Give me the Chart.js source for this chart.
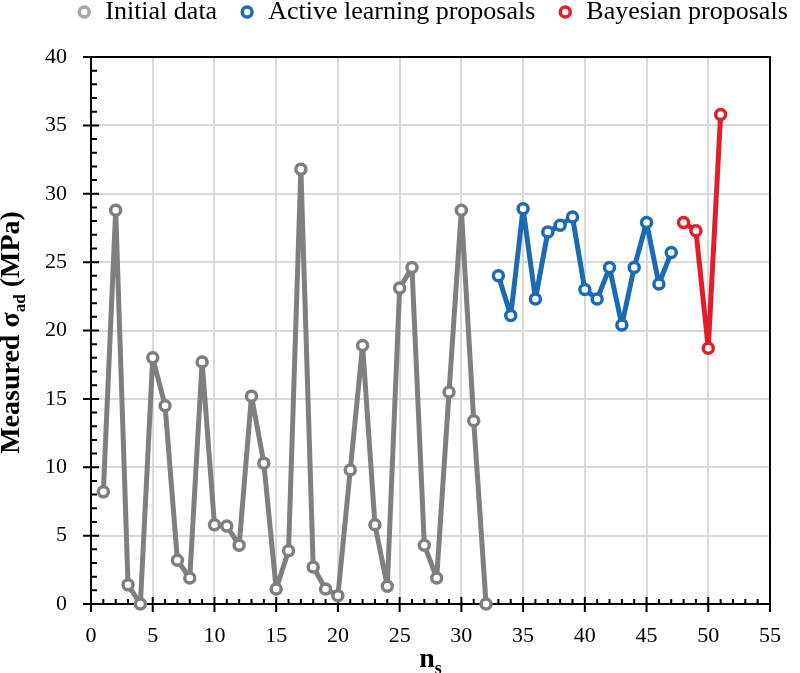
<!DOCTYPE html>
<html>
<head>
<meta charset="utf-8">
<script src="https://cdn.jsdelivr.net/npm/chart.js@4"></script>
<style>
  html, body { margin: 0; padding: 0; background: #fff; }
  #wrap { width: 800px; height: 673px; }
</style>
</head>
<body>
<div id="wrap"><canvas id="chart"></canvas></div>
<script>
// data
const initialN = [1, 2, 3, 4, 5, 6, 7, 8, 9, 10, 11, 12, 13, 14, 15, 16, 17, 18, 19, 20, 21, 22, 23, 24, 25, 26, 27, 28, 29, 30, 31, 32];
const initialSigma = [8.2, 28.8, 1.4, 0, 18.0, 14.5, 3.2, 1.9, 17.7, 5.8, 5.7, 4.3, 15.2, 10.3, 1.1, 3.9, 31.8, 2.7, 1.1, 0.6, 9.8, 18.9, 5.8, 1.3, 23.1, 24.6, 4.3, 1.9, 15.5, 28.8, 13.4, 0];
const activeN = [33, 34, 35, 36, 37, 38, 39, 40, 41, 42, 43, 44, 45, 46, 47];
const activeSigma = [24.0, 21.1, 28.9, 22.3, 27.2, 27.7, 28.3, 23.0, 22.3, 24.6, 20.4, 24.6, 27.9, 23.4, 25.7];
const bayesN = [48, 49, 50, 51];
const bayesSigma = [27.9, 27.3, 18.7, 35.8];

const xMin = 0, xMax = 55, xStep = 5;
const yMin = 0, yMax = 40, yStep = 5;

const FONT = "'Liberation Serif', 'Times New Roman', serif";
const GRAY = '#7f7f7f';
const BLUE = '#1c6ab4';
const RED = '#e31d2b';

function toPoints(xs, ys) {
    return xs.map((x, i) => ({ x: x, y: ys[i] }));
}

function lineSet(label, xs, ys, color) {
    return {
        label: label,
        data: toPoints(xs, ys),
        borderColor: color,
        backgroundColor: color,
        borderWidth: 5,
        borderJoinStyle: 'round',
        borderCapStyle: 'round',
        pointRadius: 5,
        pointBorderWidth: 3.5,
        pointBorderColor: color,
        pointBackgroundColor: '#fff',
        clip: false,
        tension: 0
    };
}

// text with a subscript part, drawn on the canvas
function drawSubText(ctx, parts, x, y, rotate) {
    ctx.save();
    ctx.translate(x, y);
    if (rotate) ctx.rotate(-Math.PI / 2);
    ctx.fillStyle = '#000';
    ctx.textBaseline = 'alphabetic';
    ctx.textAlign = 'left';
    let total = 0;
    parts.forEach(p => {
        ctx.font = 'bold ' + p.size + 'px ' + FONT;
        p.w = ctx.measureText(p.text).width;
        total += p.w;
    });
    let cx = -total / 2;
    parts.forEach(p => {
        ctx.font = 'bold ' + p.size + 'px ' + FONT;
        ctx.fillText(p.text, cx, p.shift || 0);
        cx += p.w;
    });
    ctx.restore();
}

const axisTitles = {
    id: 'axisTitles',
    afterDraw(chart) {
        const { ctx, chartArea: a } = chart;
        drawSubText(ctx, [
            { text: 'Measured σ', size: 28 },
            { text: 'ad', size: 17, shift: 6 },
            { text: ' (MPa)', size: 28 }
        ], 19, (a.top + a.bottom) / 2 + 2, true);
        drawSubText(ctx, [
            { text: 'n', size: 28 },
            { text: 's', size: 18, shift: 7 }
        ], (a.left + a.right) / 2, 667, false);
    }
};

// frame on top/right plus major and minor tick marks
const frameTicks = {
    id: 'frameTicks',
    beforeDatasetsDraw(chart) {
        const { ctx, chartArea: a, scales } = chart;
        const x = scales.x, y = scales.y;
        ctx.save();
        ctx.strokeStyle = '#000';
        ctx.lineWidth = 2;
        ctx.beginPath();
        ctx.moveTo(a.left, a.top);
        ctx.lineTo(a.right, a.top);
        ctx.lineTo(a.right, a.bottom);
        for (let v = xMin; v <= xMax; v++) {
            const px = x.getPixelForValue(v);
            const major = v % xStep === 0;
            ctx.moveTo(px, a.bottom - (major ? 7 : 5));
            ctx.lineTo(px, a.bottom + (major ? 8 : 0));
        }
        for (let v = yMin; v <= yMax; v++) {
            const py = y.getPixelForValue(v);
            const major = v % yStep === 0;
            ctx.moveTo(a.left - (major ? 8 : 0), py);
            ctx.lineTo(a.left + (major ? 8 : 6), py);
        }
        ctx.stroke();
        ctx.restore();
    }
};

// empty axes, only there to hold space around the plot
const hidden = (pos, size) => ({
    type: 'linear',
    position: pos,
    display: true,
    grid: { display: false },
    border: { display: false },
    ticks: { display: false },
    afterFit(s) {
        if (pos === 'top') s.height = size; else s.width = size;
    }
});

new Chart(document.getElementById('chart'), {
    type: 'line',
    data: {
        datasets: [
            lineSet('Initial data', initialN, initialSigma, GRAY),
            lineSet('Active learning proposals', activeN, activeSigma, BLUE),
            lineSet('Bayesian proposals', bayesN, bayesSigma, RED)
        ]
    },
    options: {
        responsive: true,
        maintainAspectRatio: false,
        animation: false,
        layout: { padding: { top: -23, left: 0, right: -64, bottom: 0 } },
        plugins: {
            tooltip: { enabled: false },
            legend: {
                position: 'top',
                labels: {
                    usePointStyle: true,
                    pointStyle: 'circle',
                    boxWidth: 16,
                    boxHeight: 7,
                    padding: 22,
                    color: '#000',
                    font: { family: FONT, size: 26 },
                    generateLabels(chart) {
                        const items = Chart.defaults.plugins.legend.labels.generateLabels(chart);
                        items.forEach(it => {
                            if (it.datasetIndex === 0) it.strokeStyle = '#a6a6a6';
                            it.lineWidth = 3.5;
                        });
                        return items;
                    }
                }
            }
        },
        scales: {
            x: {
                type: 'linear',
                position: 'bottom',
                min: xMin,
                max: xMax,
                ticks: {
                    stepSize: xStep,
                    padding: 19,
                    color: '#000',
                    font: { family: FONT, size: 22 }
                },
                grid: { color: '#d9d9d9', lineWidth: 2, drawTicks: false },
                border: { color: '#000', width: 2 },
                afterFit(s) { s.height = 69; }
            },
            y: {
                type: 'linear',
                position: 'left',
                min: yMin,
                max: yMax,
                ticks: {
                    stepSize: yStep,
                    padding: 24,
                    color: '#000',
                    font: { family: FONT, size: 22 }
                },
                grid: { color: '#d9d9d9', lineWidth: 2, drawTicks: false },
                border: { color: '#000', width: 2 },
                afterFit(s) { s.width = 91; }
            },
            x2: hidden('top', 22),
            y2: hidden('right', 84)
        }
    },
    plugins: [frameTicks, axisTitles]
});
</script>
</body>
</html>
